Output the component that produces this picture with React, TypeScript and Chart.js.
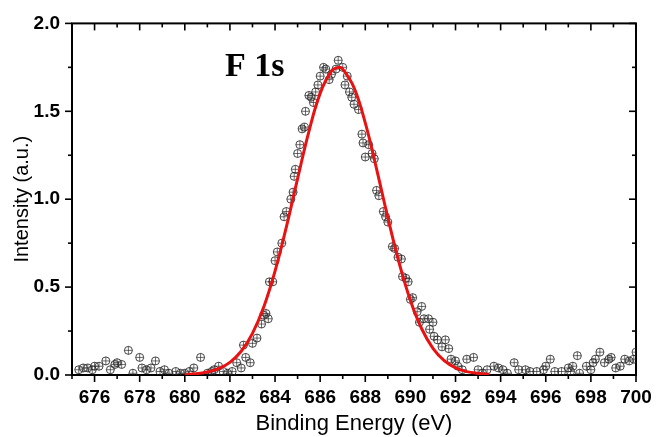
import { useEffect, useRef } from 'react';
import { Chart, registerables } from 'chart.js';

Chart.register(...registerables);

// Measured XPS points (binding energy, eV)
const energy = [
  675.3, 675.5, 675.7, 675.9, 676.0, 676.2, 676.5, 676.7, 676.9, 677.0, 677.2, 677.5, 677.7, 678.0, 678.1,
  678.3, 678.5, 678.7, 678.9, 679.1, 679.3, 679.6, 679.8, 680.0, 680.2, 680.4, 680.7, 681.0, 681.2, 681.3,
  681.5, 681.7, 681.9, 682.1, 682.3, 682.5, 682.6, 682.7, 682.9, 683.0, 683.2, 683.4, 683.5, 683.6, 683.7,
  683.75, 683.9, 684.0, 684.1, 684.3, 684.4, 684.5, 684.7, 684.8, 684.85, 684.9, 685.0, 685.1, 685.2, 685.3,
  685.35, 685.5, 685.6, 685.7, 685.8, 685.9, 686.0, 686.15, 686.25, 686.4, 686.5, 686.7, 686.8, 687.0, 687.1,
  687.2, 687.3, 687.4, 687.5, 687.7, 687.85, 687.9, 688.0, 688.15, 688.3, 688.4, 688.5, 688.6, 688.8, 688.9,
  689.0, 689.2, 689.3, 689.45, 689.6, 689.65, 689.8, 689.9, 690.0, 690.1, 690.3, 690.4, 690.5, 690.6, 690.8,
  690.85, 691.0, 691.05, 691.2, 691.4, 691.55, 691.7, 691.8, 692.0, 692.1, 692.3, 692.5, 692.8, 693.0, 693.2,
  693.4, 693.7, 693.9, 694.1, 694.3, 694.6, 694.8, 695.1, 695.3, 695.6, 695.9, 696.0, 696.2, 696.4, 696.7,
  697.0, 697.1, 697.2, 697.4, 697.5, 697.8, 698.0, 698.1, 698.2, 698.4, 698.6, 698.8, 698.9, 699.1, 699.3,
  699.5, 699.7, 699.9, 700.0,
];
// Measured intensity (a.u.)
const intensity = [
  0.03, 0.04, 0.04, 0.03, 0.05, 0.05, 0.08, 0.03, 0.06, 0.07, 0.06, 0.14, 0.01, 0.10, 0.04,
  0.03, 0.04, 0.08, 0.02, 0.03, 0.01, 0.02, 0.01, 0.01, 0.02, 0.04, 0.10, 0.01, 0.02, 0.03,
  0.05, 0.02, 0.01, 0.02, 0.07, 0.04, 0.17, 0.10, 0.07, 0.18, 0.21, 0.29, 0.34, 0.35, 0.32,
  0.53, 0.53, 0.65, 0.70, 0.75, 0.90, 0.93, 1.00, 1.04, 1.13, 1.17, 1.26, 1.31, 1.40, 1.41,
  1.50, 1.59, 1.58, 1.55, 1.61, 1.65, 1.70, 1.75, 1.74, 1.68, 1.71, 1.74, 1.79, 1.75, 1.65,
  1.70, 1.61, 1.58, 1.54, 1.51, 1.37, 1.32, 1.24, 1.31, 1.26, 1.23, 1.05, 1.02, 0.93, 0.90,
  0.87, 0.73, 0.72, 0.67, 0.66, 0.56, 0.55, 0.53, 0.43, 0.44, 0.36, 0.30, 0.39, 0.32, 0.32,
  0.26, 0.30, 0.22, 0.20, 0.16, 0.20, 0.15, 0.09, 0.08, 0.05, 0.03, 0.09, 0.10, 0.03, 0.01,
  0.03, 0.05, 0.04, 0.03, 0.01, 0.07, 0.03, 0.03, 0.02, 0.02, 0.03, 0.05, 0.09, 0.02, 0.02,
  0.04, 0.02, 0.05, 0.11, 0.01, 0.05, 0.03, 0.07, 0.09, 0.13, 0.07, 0.09, 0.10, 0.04, 0.05,
  0.09, 0.08, 0.09, 0.13,
];

// Fitted peak (red curve)
const fitEnergy = [
  680.0, 680.5, 681.0, 681.5, 682.0, 682.5, 683.0, 683.5, 684.0, 684.5, 685.0, 685.5, 686.0, 686.5, 686.8,
  687.0, 687.5, 688.0, 688.5, 689.0, 689.5, 690.0, 690.5, 691.0, 691.5, 692.0, 692.5, 693.0, 693.5,
];
const fitIntensity = [
  0.003, 0.007, 0.017, 0.036, 0.072, 0.135, 0.237, 0.387, 0.591, 0.841, 1.117, 1.385, 1.602, 1.728, 1.75,
  1.74, 1.635, 1.434, 1.173, 0.895, 0.638, 0.424, 0.263, 0.152, 0.082, 0.041, 0.019, 0.009, 0.003,
];

const xLabelValues = [676, 678, 680, 682, 684, 686, 688, 690, 692, 694, 696, 698, 700];
const yLabelValues = [0, 0.5, 1.0, 1.5, 2.0];

const peakLabel = 'F 1s';
const peakLabelAt = { x: 683.1, y: 1.70 };

const SANS = "'Liberation Sans', Arial, sans-serif";

const isLabelled = (list: number[], v: number) => list.some((l) => Math.abs(l - v) < 1e-6);

const framePlugin = {
  id: 'frame',
  beforeDatasetsDraw(chart: any) {
    const { ctx, chartArea: a, scales } = chart;
    ctx.save();
    ctx.strokeStyle = '#000';
    ctx.lineWidth = 2;
    ctx.strokeRect(a.left, a.top, a.right - a.left, a.bottom - a.top);
    ctx.lineWidth = 1.6;
    const seg = (x1: number, y1: number, x2: number, y2: number) => {
      ctx.beginPath();
      ctx.moveTo(x1, y1);
      ctx.lineTo(x2, y2);
      ctx.stroke();
    };
    scales.x.ticks.forEach((t: any) => {
      const px = scales.x.getPixelForValue(t.value);
      const len = isLabelled(xLabelValues, t.value) ? 7 : 4;
      seg(px, a.bottom, px, a.bottom + len);
      seg(px, a.top, px, a.top + len);
    });
    scales.y.ticks.forEach((t: any) => {
      const py = scales.y.getPixelForValue(t.value);
      const len = isLabelled(yLabelValues, t.value) ? 7 : 4;
      seg(a.left - len, py, a.left, py);
      seg(a.right - len, py, a.right, py);
    });
    ctx.restore();
  },
  afterDraw(chart: any) {
    const { ctx, scales } = chart;
    ctx.save();
    ctx.fillStyle = '#000';
    ctx.font = "bold 34px 'Liberation Serif', 'Times New Roman', serif";
    ctx.textAlign = 'center';
    ctx.textBaseline = 'alphabetic';
    ctx.fillText(peakLabel, scales.x.getPixelForValue(peakLabelAt.x), scales.y.getPixelForValue(peakLabelAt.y));
    ctx.restore();
  },
};

export default function App() {
  const ref = useRef<HTMLCanvasElement | null>(null);

  useEffect(() => {
    if (!ref.current) return;
    const points = energy.map((x, i) => ({ x, y: intensity[i] }));
    const fit = fitEnergy.map((x, i) => ({ x, y: fitIntensity[i] }));
    const markerColor = 'rgba(40,40,40,0.85)';
    const chart = new Chart(ref.current, {
      type: 'scatter',
      data: {
        datasets: [
          {
            label: 'Fit',
            data: fit,
            showLine: true,
            borderColor: 'rgb(232,18,18)',
            borderWidth: 3,
            pointRadius: 0,
            tension: 0.4,
            fill: false,
            order: 0,
          },
          {
            label: 'Data',
            data: points,
            pointStyle: 'circle',
            pointRadius: 4,
            borderColor: markerColor,
            backgroundColor: 'rgba(0,0,0,0)',
            pointBorderWidth: 1,
            order: 1,
          },
          {
            label: 'Data cross',
            data: points,
            pointStyle: 'cross',
            pointRadius: 4,
            borderColor: markerColor,
            backgroundColor: 'rgba(0,0,0,0)',
            pointBorderWidth: 0.8,
            order: 2,
          },
        ],
      },
      options: {
        animation: false,
        responsive: true,
        maintainAspectRatio: false,
        layout: { padding: { top: 19, right: 27, left: 0, bottom: 0 } },
        plugins: { legend: { display: false }, tooltip: { enabled: false } },
        scales: {
          x: {
            type: 'linear',
            min: 675,
            max: 700,
            grid: { display: false, drawTicks: false },
            border: { display: false },
            ticks: {
              stepSize: 1,
              autoSkip: false,
              maxRotation: 0,
              padding: 11,
              color: '#000',
              font: { family: SANS, size: 19, weight: 'bold' },
              callback: (v: any) => (isLabelled(xLabelValues, Number(v)) ? String(v) : ''),
            },
            title: {
              display: true,
              text: 'Binding Energy (eV)',
              color: '#000',
              font: { family: SANS, size: 22 },
              padding: { top: 0, bottom: 0 },
            },
            afterFit: (s: any) => {
              s.height = 62;
            },
          },
          y: {
            min: 0,
            max: 2,
            grid: { display: false, drawTicks: false },
            border: { display: false },
            ticks: {
              stepSize: 0.25,
              autoSkip: false,
              padding: 12,
              color: '#000',
              font: { family: SANS, size: 19, weight: 'bold' },
              callback: (v: any) => (isLabelled(yLabelValues, Number(v)) ? Number(v).toFixed(1) : ''),
            },
            title: {
              display: true,
              text: 'Intensity (a.u.)',
              color: '#000',
              font: { family: SANS, size: 20 },
              padding: { top: 10, bottom: 0 },
            },
            afterFit: (s: any) => {
              s.width = 72;
            },
          },
        },
      },
      plugins: [framePlugin],
    });
    return () => chart.destroy();
  }, []);

  return (
    <div style={{ position: 'absolute', left: 0, top: 0, width: 663, height: 437, background: '#fff' }}>
      <canvas ref={ref} />
    </div>
  );
}
